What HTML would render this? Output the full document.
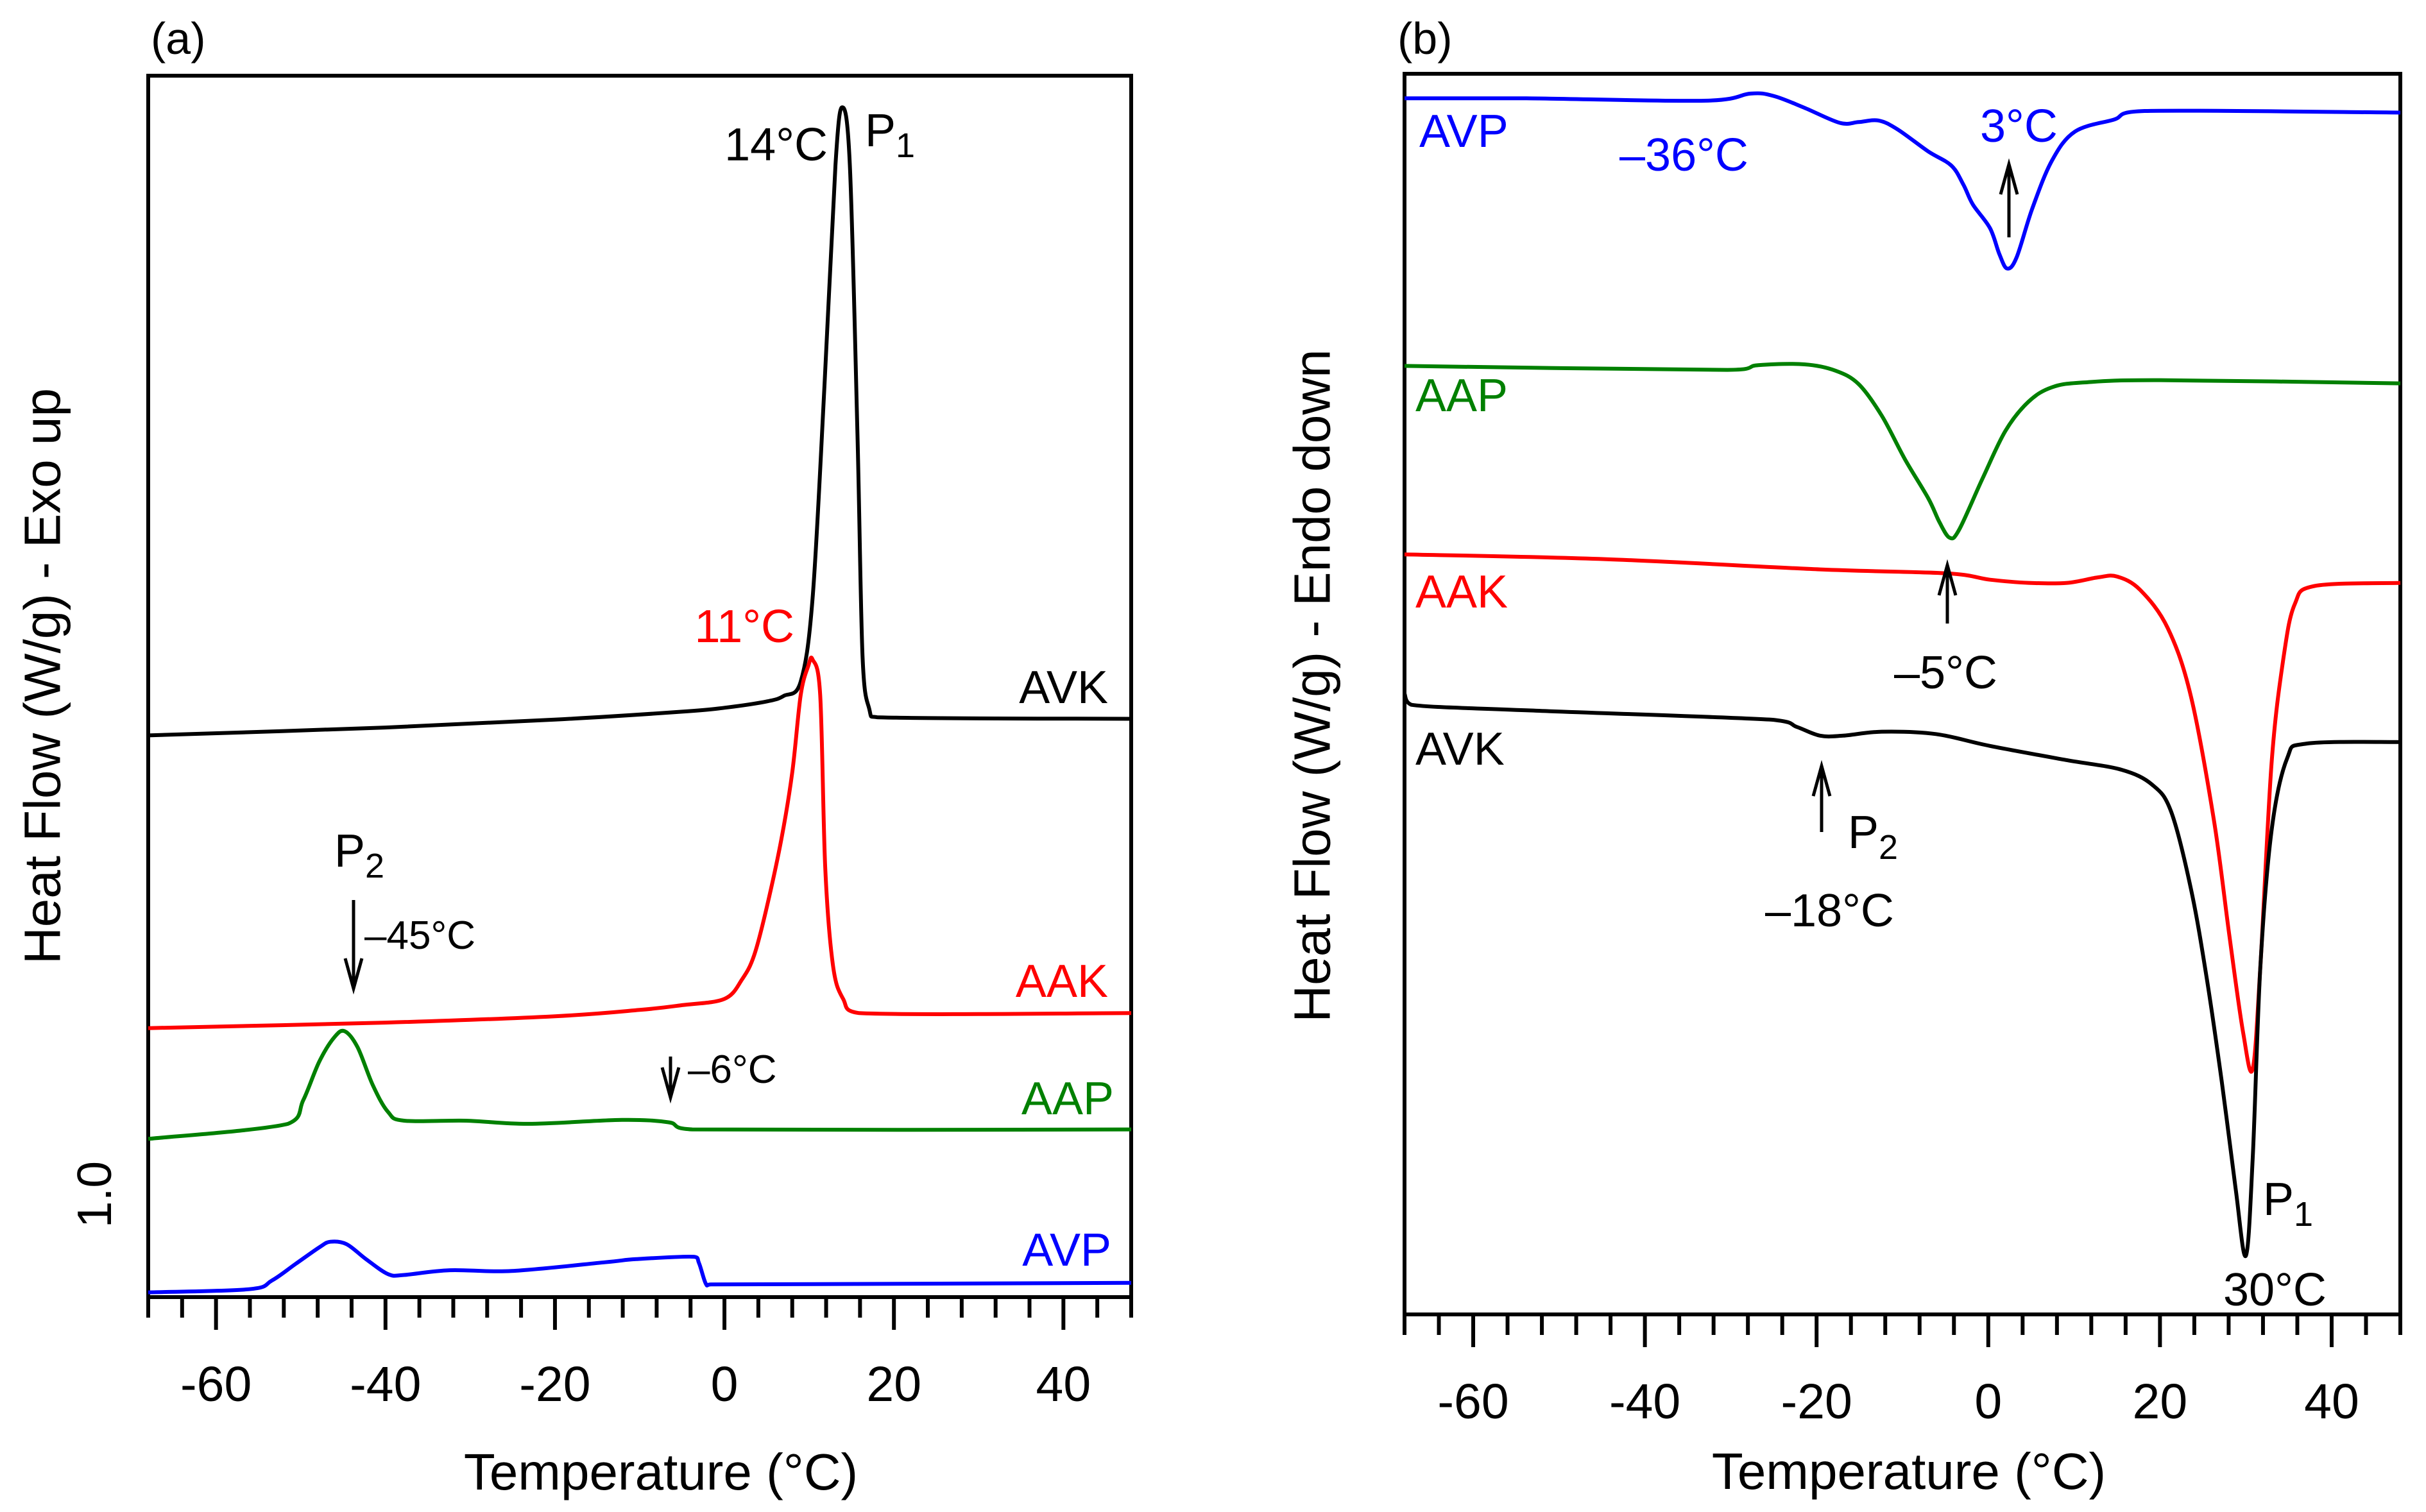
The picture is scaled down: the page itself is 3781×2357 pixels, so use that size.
<!DOCTYPE html>
<html><head><meta charset="utf-8"><style>
html,body{margin:0;padding:0;background:#fff;}
svg{display:block;font-family:"Liberation Sans",Arial,sans-serif;}
</style></head><body>
<svg id="fig" width="3781" height="2357" viewBox="0 0 3781 2357" xmlns="http://www.w3.org/2000/svg">
<g id="pa"></g>
<g id="pb"></g>
</svg>
<script>
// Panel (a) data: temperature (°C) and heat flow (arbitrary offset units)
const aAVK_T=[-68,-40,-20,-5,0,5,7,9,10.4,11.8,13.1,13.9,14.8,15.7,16.3,17.1,18,48];
const aAVK_V=[7.10,7.20,7.30,7.40,7.45,7.53,7.60,7.78,8.83,11.51,14.31,15.04,14.31,10.90,8.10,7.43,7.33,7.31];
const aAAK_T=[-68,-40,-20,-10,-5,0,2.1,3.5,5,6.7,8,9,9.9,10.4,11.3,11.9,12.8,14,15.9,48];
const aAAK_V=[3.40,3.47,3.55,3.63,3.69,3.77,4.02,4.32,4.93,5.78,6.63,7.61,7.98,8.06,7.61,5.42,4.20,3.77,3.59,3.59];
const aAAP_T=[-68,-51.5,-49.7,-47.8,-46,-44.8,-43.3,-41.5,-39.7,-37.8,-30.5,-23.1,-12.1,-6.6,-3.8,48];
const aAAP_V=[2.00,2.19,2.49,2.98,3.29,3.36,3.16,2.68,2.34,2.23,2.23,2.19,2.24,2.21,2.12,2.12];
const aAVP_T=[-68,-56.1,-53.4,-50.6,-47.8,-46.5,-44.6,-42.3,-39.7,-37.8,-32.4,-25.1,-14.1,-10.4,-3.6,-3.0,-2.2,-1.6,48];
const aAVP_V=[0.06,0.10,0.21,0.42,0.63,0.70,0.67,0.48,0.29,0.28,0.34,0.33,0.44,0.48,0.51,0.43,0.17,0.16,0.18];
// Panel (b) data
const bAVP_T=[-68,-53.8,-33.1,-27.7,-25,-21.4,-17.3,-15.1,-12.8,-10.6,-7,-4.3,-2.9,-1.8,0.2,1.3,2.2,3.3,5.1,7.4,10.1,14.6,18.2,48];
const bAVP_V=[15.36,15.36,15.33,15.42,15.39,15.24,15.05,15.06,15.08,14.97,14.69,14.51,14.27,14.02,13.72,13.39,13.21,13.35,13.96,14.57,14.94,15.09,15.20,15.18];
const bAAP_T=[-68,-30.4,-26.8,-21.4,-17.8,-15.1,-12.4,-9.7,-7,-5.7,-4.5,-3.4,-0.7,2,4.7,7.4,11,20,48];
const bAAP_V=[11.98,11.93,11.99,12.00,11.92,11.75,11.35,10.80,10.31,10.01,9.81,9.91,10.55,11.16,11.53,11.71,11.77,11.80,11.76];
const bAAK_T=[-68,-44.7,-19.6,-4.8,0.2,4.7,9.2,12.8,15,17.7,20.9,23.6,26.3,28.1,29.7,30.8,31.7,33,34.4,35.7,38,48];
const bAAK_V=[9.60,9.54,9.41,9.36,9.28,9.24,9.24,9.31,9.32,9.15,8.67,7.81,6.23,4.77,3.55,3.10,4.40,6.96,8.30,8.97,9.20,9.24];
const bAVK_T=[-68,-67.2,-53.8,-25,-22.3,-19.6,-16.9,-12.4,-6.1,0.2,9.2,15.5,19.1,21.3,23.6,25.4,27.2,28.8,30,30.8,31.7,33,34.8,37.1,48];
const bAVK_V=[7.84,7.70,7.63,7.51,7.42,7.31,7.31,7.36,7.33,7.18,7.00,6.88,6.69,6.35,5.38,4.28,2.94,1.60,0.74,1.97,4.40,6.11,7.02,7.21,7.23];
const xTickLabels=[-60,-40,-20,0,20,40];

const NS="http://www.w3.org/2000/svg";
function mk(parent,tag,attrs){const e=document.createElementNS(NS,tag);for(const k in attrs)e.setAttribute(k,attrs[k]);parent.appendChild(e);return e;}
function smoothPath(pts){
  let d="M"+pts[0][0].toFixed(1)+","+pts[0][1].toFixed(1);
  for(let i=0;i<pts.length-1;i++){
    const p0=pts[Math.max(0,i-1)],p1=pts[i],p2=pts[i+1],p3=pts[Math.min(pts.length-1,i+2)];
    let c1x=p1[0]+(p2[0]-p0[0])/6,c1y=p1[1]+(p2[1]-p0[1])/6;
    let c2x=p2[0]-(p3[0]-p1[0])/6,c2y=p2[1]-(p3[1]-p1[1])/6;
    c1x=Math.min(Math.max(c1x,p1[0]),p2[0]);c2x=Math.min(Math.max(c2x,p1[0]),p2[0]);
    d+=" C"+c1x.toFixed(1)+","+c1y.toFixed(1)+" "+c2x.toFixed(1)+","+c2y.toFixed(1)+" "+p2[0].toFixed(1)+","+p2[1].toFixed(1);
  }
  return d;
}
function panel(g,L,R,T,B,k,labY,series){
  const xs=t=>L+(t+68)/116*(R-L);
  const ys=v=>B-v*100*k;
  const frame=mk(g,"rect",{x:L,y:T,width:R-L,height:B-T,fill:"none",stroke:"#000","stroke-width":6});
  
  
  for(let t=-68;t<=48;t+=4){
    const major=(t%20===0);
    const tk=mk(g,"line",{x1:xs(t),x2:xs(t),y1:B,y2:B+(major?51:32),stroke:"#000","stroke-width":6});
    
    
  }
  xTickLabels.forEach(t=>{
    const tl=mk(g,"text",{x:xs(t),y:labY,"text-anchor":"middle","font-size":77});
    
    
    tl.textContent=t;
  });
  series.forEach(s=>{
    const pts=s.T.map((t,i)=>[xs(t),ys(s.V[i])]);
    const p=mk(g,"path",{d:smoothPath(pts),fill:"none",stroke:s.c,"stroke-width":6,"stroke-linejoin":"round"});
    
    
  });
}
const pa=document.getElementById("pa"),pb=document.getElementById("pb");
panel(pa,231,1763,118,2022,1.2332,2184,[
 {T:aAVK_T,V:aAVK_V,c:"#000",n:"curve-avk"},{T:aAAK_T,V:aAAK_V,c:"#ff0000",n:"curve-aak"},
 {T:aAAP_T,V:aAAP_V,c:"#008000",n:"curve-aap"},{T:aAVP_T,V:aAVP_V,c:"#0000ff",n:"curve-avp"}]);
panel(pb,2189,3741,115,2049,1.2342,2211,[
 {T:bAVP_T,V:bAVP_V,c:"#0000ff",n:"curve-avp"},{T:bAAP_T,V:bAAP_V,c:"#008000",n:"curve-aap"},
 {T:bAAK_T,V:bAAK_V,c:"#ff0000",n:"curve-aak"},{T:bAVK_T,V:bAVK_V,c:"#000",n:"curve-avk"}]);
</script>
<script>
(function(){
const svg=document.getElementById("fig");
const NS="http://www.w3.org/2000/svg";
const sub1="P<tspan dy='17' font-size='54'>1</tspan>";
const sub2="P<tspan dy='17' font-size='54'>2</tspan>";
const labels=[
 ["panel-a-label","(a)",235,84,"start","#000",70],
 ["panel-b-label","(b)",2178,84,"start","#000",70],
 ["peak-14c","14°C",1290,250,"end","#000",72],
 ["p1-label-a",sub1,1348,228,"start","#000",72],
 ["peak-11c","11°C",1238,1001,"end","#ff0000",72],
 ["avk-label-a","AVK",1727,1096,"end","#000",72],
 ["p2-label-a",sub2,521,1351,"start","#000",72],
 ["minus45c","–45°C",568,1479,"start","#000",62],
 ["aak-label-a","AAK",1727,1554,"end","#ff0000",72],
 ["minus6c","–6°C",1072,1688,"start","#000",62],
 ["aap-label-a","AAP",1736,1737,"end","#008000",72],
 ["avp-label-a","AVP",1732,1973,"end","#0000ff",72],
 ["x-axis-title-a","Temperature (°C)",1030,2322,"middle","#000",80],
 ["x-axis-title-b","Temperature (°C)",2975,2321,"middle","#000",80],
 ["avp-label-b","AVP",2212,229,"start","#0000ff",72],
 ["minus36c","–36°C",2524,266,"start","#0000ff",72],
 ["peak-3c","3°C",3086,221,"start","#0000ff",72],
 ["aap-label-b","AAP",2206,641,"start","#008000",72],
 ["aak-label-b","AAK",2206,947,"start","#ff0000",72],
 ["minus5c","–5°C",2952,1073,"start","#000",72],
 ["avk-label-b","AVK",2206,1192,"start","#000",72],
 ["p2-label-b",sub2,2880,1322,"start","#000",72],
 ["minus18c","–18°C",2751,1444,"start","#000",72],
 ["p1-label-b",sub1,3527,1894,"start","#000",72],
 ["peak-30c","30°C",3465,2035,"start","#000",72]
];
labels.forEach(l=>{
 const t=document.createElementNS(NS,"text");
 t.setAttribute("x",l[2]);t.setAttribute("y",l[3]);t.setAttribute("text-anchor",l[4]);
 t.setAttribute("fill",l[5]);t.setAttribute("font-size",l[6]);
 
 
 t.innerHTML=l[1];svg.appendChild(t);
});
const rot=[["y-axis-title-a","Heat Flow (W/g) - Exo up",66,1054,80],["y-axis-title-b","Heat Flow (W/g) - Endo down",2045,1069,80],["scale-bar-label","1.0",147,1862,75]];
rot.forEach(r=>{
 const t=document.createElementNS(NS,"text");
 t.setAttribute("x",r[2]);t.setAttribute("y",r[3]);t.setAttribute("text-anchor","middle");
 t.setAttribute("dominant-baseline","central");t.setAttribute("font-size",r[4]);
 t.setAttribute("transform","rotate(-90 "+r[2]+" "+r[3]+")");
 
 
 t.textContent=r[1];svg.appendChild(t);
});
// arrows: [name, x, yTail, yTip]
const arrows=[["arrow-p2-a",551,1403,1541],["arrow-minus6",1045,1647,1711],["arrow-3c",3131,370,256],["arrow-minus5",3035,972,881],["arrow-p2-b",2839,1297,1194]];
arrows.forEach(a=>{
 const g=document.createElementNS(NS,"path");
 const dir=a[3]>a[2]?-1:1;
 g.setAttribute("d","M"+a[1]+","+a[2]+" L"+a[1]+","+a[3]+" M"+(a[1]-13)+","+(a[3]+dir*47)+" L"+a[1]+","+a[3]+" L"+(a[1]+13)+","+(a[3]+dir*47));
 g.setAttribute("stroke","#000");g.setAttribute("stroke-width",5);g.setAttribute("fill","none");
 
 
 svg.appendChild(g);
});
})();
</script>
</body></html>
